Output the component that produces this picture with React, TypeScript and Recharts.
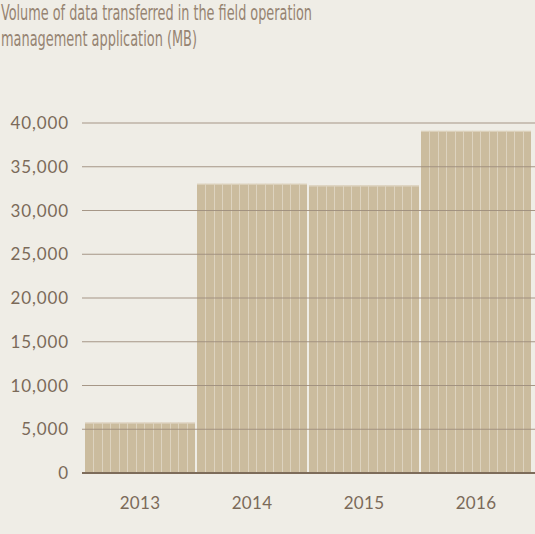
import React from "react";
import { BarChart, Bar, XAxis, YAxis, ReferenceLine } from "recharts";

// values (MB)
const years = ["2013", "2014", "2015", "2016"];
const volumeMB = [5750, 33050, 32850, 39100];
const yTicks = [0, 5000, 10000, 15000, 20000, 25000, 30000, 35000, 40000];
const titleLines = [
  "Volume of data transferred in the field operation",
  "management application (MB)",
];

const BG = "#efede6";
const BAR = "#cbbc9e";
const STRIPE = "#ddd3bf";
const GRID = "#9d8d7c";
const TEXT = "#7b6a59";
const TITLE = "#968472";

// bar drawn as a rect split by thin light stripes, like the reference texture
const StripedBar = (props: any) => {
  const { x, y, width, height } = props;
  if (!width || !height) return null;
  const parts = 13;
  const stripes = [];
  for (let i = 1; i < parts; i++) {
    const sx = Math.round(x + (width * i) / parts) + 0.5;
    stripes.push(
      <line key={i} x1={sx} x2={sx} y1={y} y2={y + height} stroke={STRIPE} strokeWidth={1} />
    );
  }
  return (
    <g>
      <rect x={x} y={y} width={width} height={height} fill={BAR} />
      {stripes}
      <line x1={x} x2={x + width} y1={y + 0.5} y2={y + 0.5} stroke={STRIPE} strokeWidth={1} />
    </g>
  );
};

const titleFont = "'Liberation Sans Narrow', 'DejaVu Sans Condensed', sans-serif";

export default function App() {
  const data = years.map((year, i) => ({ year, value: volumeMB[i] }));

  return (
    <div
      style={{
        position: "absolute",
        left: 0,
        top: 0,
        width: 535,
        height: 534,
        background: BG,
        overflow: "hidden",
      }}
    >
      <svg width={535} height={60} style={{ position: "absolute", left: 0, top: 0 }}>
        <text
          x={1}
          y={19.5}
          fill={TITLE}
          fontSize={21}
          fontFamily={titleFont}
          textLength={311}
          lengthAdjust="spacingAndGlyphs"
        >
          {titleLines[0]}
        </text>
        <text
          x={1}
          y={46}
          fill={TITLE}
          fontSize={21}
          fontFamily={titleFont}
          textLength={196}
          lengthAdjust="spacingAndGlyphs"
        >
          {titleLines[1]}
        </text>
      </svg>
      <div style={{ position: "absolute", left: 0, top: 0 }}>
        <BarChart
          width={535}
          height={534}
          data={data}
          margin={{ top: 123, right: 0, bottom: 21, left: 0 }}
          barCategoryGap={1}
        >
          <XAxis
            dataKey="year"
            padding={{ left: 2, right: 3 }}
            axisLine={{ stroke: "#7d6c5a", strokeWidth: 2 }}
            tickLine={false}
            tickSize={0}
            tickMargin={24}
            height={40}
            tick={{ fill: TEXT, fontSize: 17, fontFamily: "Lato, sans-serif", letterSpacing: 0.3 }}
          />
          <YAxis
            domain={[0, 40000]}
            ticks={yTicks}
            width={82}
            axisLine={false}
            tickLine={false}
            tickSize={0}
            tickMargin={13}
            interval={0}
            tickFormatter={(v: number) => v.toLocaleString("en-US")}
            tick={{ fill: TEXT, fontSize: 17, fontFamily: "Lato, sans-serif", letterSpacing: 0.9 }}
          />
          <Bar dataKey="value" shape={StripedBar} isAnimationActive={false} />
          {yTicks
            .filter((t) => t > 0)
            .map((t) => (
              <ReferenceLine key={t} y={t} stroke={GRID} strokeWidth={1.2} strokeOpacity={0.9} />
            ))}
        </BarChart>
      </div>
    </div>
  );
}
